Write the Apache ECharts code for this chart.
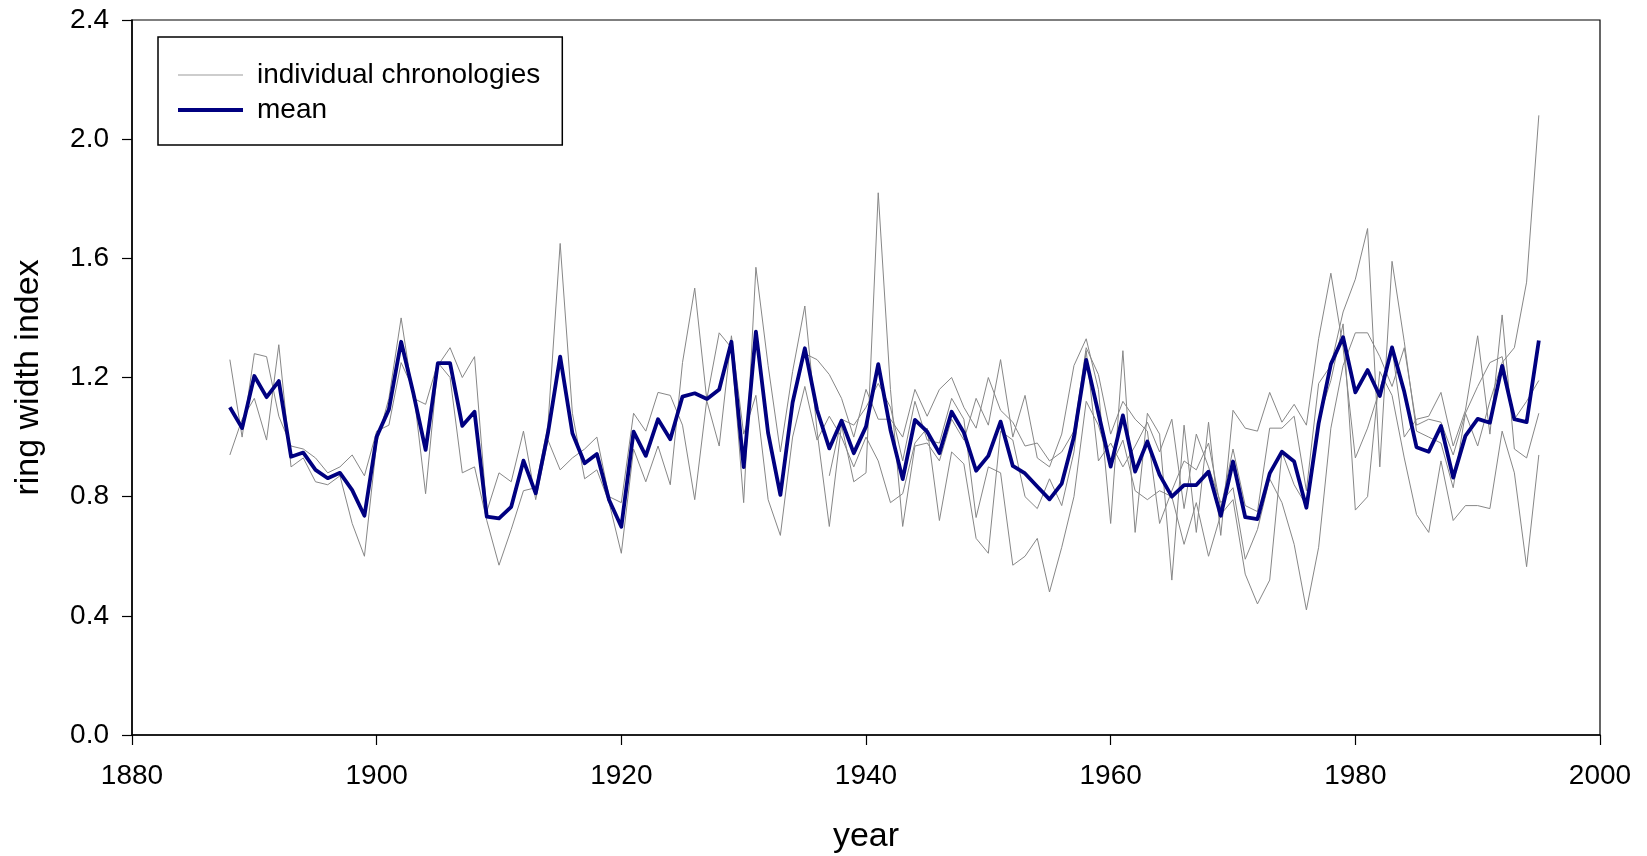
<!DOCTYPE html>
<html>
<head>
<meta charset="utf-8">
<title>Ring width index</title>
<script src="https://cdn.jsdelivr.net/npm/echarts@6/dist/echarts.min.js"></script>
<style>
  html, body { margin: 0; padding: 0; background: #fff; }
  #chart { width: 1647px; height: 856px; }
</style>
</head>
<body>
<div id="chart"></div>
<script>
// Ring width index chronologies, one value per year.
const meanStart = 1888;
const meanIndex = [
  1.10, 1.03, 1.205, 1.134, 1.188, 0.934, 0.948, 0.89, 0.862, 0.88, 0.822, 0.736,
  1.001, 1.093, 1.32, 1.147, 0.957, 1.248, 1.248, 1.038, 1.085, 0.733,
  0.727, 0.766, 0.921, 0.811, 1.013, 1.27, 1.013, 0.912, 0.943, 0.789,
  0.699, 1.018, 0.937, 1.06, 0.993, 1.136, 1.147, 1.128, 1.16, 1.32,
  0.899, 1.354, 1.013, 0.806, 1.116, 1.298, 1.091, 0.962, 1.055, 0.946,
  1.035, 1.245, 1.024, 0.859, 1.058, 1.018, 0.946, 1.085, 1.015, 0.887,
  0.937, 1.052, 0.903, 0.878, 0.834, 0.791, 0.844, 1.001, 1.259, 1.08,
  0.901, 1.073, 0.884, 0.985, 0.873, 0.80, 0.839, 0.839, 0.884, 0.736,
  0.918, 0.731, 0.725, 0.878, 0.951, 0.918, 0.763, 1.046, 1.245, 1.335,
  1.15, 1.225, 1.138, 1.301, 1.152, 0.966, 0.951, 1.037, 0.864, 1.004,
  1.061, 1.048, 1.239, 1.06, 1.05, 1.324
];

const chronAStart = 1888;
const chronA = [
  1.26, 1.00, 1.28, 1.27, 1.07, 0.97, 0.96, 0.93, 0.88, 0.90, 0.94, 0.87,
  1.02, 1.04, 1.25, 1.16, 0.81, 1.24, 1.30, 1.20, 1.27, 0.75,
  0.88, 0.85, 1.02, 0.79, 0.99, 0.89, 0.93, 0.96, 1.00, 0.80,
  0.78, 1.08, 1.02, 1.15, 1.14, 1.04, 0.79, 1.13, 1.35, 1.30,
  0.78, 1.57, 1.24, 0.95, 1.22, 1.44, 1.02, 0.70, 1.04, 0.85,
  0.88, 1.82, 1.16, 0.70, 0.97, 0.98, 0.92, 1.06, 0.99, 1.13,
  1.04, 1.26, 1.00, 1.14, 0.93, 0.90, 1.01, 1.24, 1.33, 1.16,
  0.71, 1.29, 0.68, 1.08, 1.01, 0.52, 1.04, 0.68, 1.05, 0.67,
  1.09, 1.03, 1.02, 1.15, 1.05, 1.11, 1.04, 1.33, 1.55, 1.30,
  0.93, 1.03, 1.16, 1.30, 1.00, 1.06, 1.07, 1.15, 0.97, 1.09,
  1.34, 1.01, 1.41, 0.96, 0.93, 1.08
];

const chronBStart = 1888;
const chronB = [
  0.94, 1.06, 1.13, 0.99, 1.31, 0.90, 0.93, 0.85, 0.84, 0.87, 0.71, 0.60,
  0.98, 1.13, 1.40, 1.13, 1.11, 1.25, 1.20, 0.88, 0.90, 0.72,
  0.57, 0.69, 0.82, 0.83, 1.04, 1.65, 1.08, 0.86, 0.89, 0.78,
  0.61, 0.96, 0.85, 0.97, 0.84, 1.25, 1.50, 1.12, 0.97, 1.34,
  1.01, 1.14, 0.79, 0.67, 1.00, 1.17, 0.99, 1.07, 1.00, 0.90,
  1.00, 0.92, 0.78, 0.81, 0.98, 1.03, 0.72, 0.95, 0.91, 0.66,
  0.61, 1.02, 0.99, 0.80, 0.76, 0.86, 0.77, 0.95, 1.29, 0.92,
  0.98, 0.90, 0.97, 1.05, 0.95, 1.06, 0.76, 1.01, 0.90, 0.78,
  0.83, 0.59, 0.69, 0.86, 0.78, 0.64, 0.42, 0.63, 1.03, 1.24,
  1.35, 1.35, 1.27, 1.17, 1.30, 1.04, 1.06, 1.05, 0.94, 1.08,
  1.17, 1.25, 1.27, 1.06, 1.12, 1.19
];

const chronCStart = 1934;
const chronC = [
  1.13, 1.28, 1.26, 1.21, 1.13, 1.00,
  1.16, 1.06, 1.06, 1.00, 1.16, 1.07, 1.16, 1.20, 1.10, 1.03,
  1.20, 1.09, 1.05, 0.97, 0.98, 0.92, 0.95, 1.02, 1.30, 1.21,
  1.01, 1.12, 1.06, 1.02, 0.71, 0.82, 0.92, 0.89, 0.98, 0.76,
  0.96, 0.77, 0.75, 1.03, 1.03, 1.07, 0.82, 1.18, 1.24, 1.42,
  1.53, 1.70, 0.90, 1.59, 1.32, 1.02, 1.00, 0.98, 0.83, 1.08,
  0.97, 1.12, 1.25, 1.30, 1.52, 2.08
];

const chronDStart = 1937;
const chronD = [
  0.87, 1.06, 1.04,
  1.10, 1.18, 1.10, 0.92, 1.12, 0.99, 0.98, 1.13, 1.06, 0.73,
  0.90, 0.88, 0.57, 0.60, 0.66, 0.48, 0.63, 0.80, 1.12, 1.04,
  0.90, 0.99, 0.82, 0.79, 0.82, 0.80, 0.64, 0.78, 0.60, 0.74,
  0.79, 0.54, 0.44, 0.52, 0.95, 0.84, 0.77, 1.06, 1.19, 1.38,
  0.755, 0.80, 1.22, 1.14, 0.93, 0.74, 0.68, 0.92, 0.72, 0.77,
  0.77, 0.76, 1.02, 0.88, 0.565, 0.94
];

const xTicks = [1880, 1900, 1920, 1940, 1960, 1980, 2000];
const yTicks = [0.0, 0.4, 0.8, 1.2, 1.6, 2.0, 2.4];

// pair each value with its year
function toPoints(startYear, values) {
  return values.map((v, i) => [startYear + i, v]);
}

const FONT = '"Liberation Sans", Arial, sans-serif';
const GREY = '#878787';
const NAVY = '#000080';

const chronologies = [
  [chronAStart, chronA],
  [chronBStart, chronB],
  [chronCStart, chronC],
  [chronDStart, chronD]
];

const series = chronologies.map(([start, vals]) => ({
  name: 'individual chronologies',
  type: 'line',
  data: toPoints(start, vals),
  showSymbol: false,
  symbol: 'none',
  lineStyle: { color: GREY, width: 1 },
  itemStyle: { color: GREY },
  z: 2
}));

series.push({
  name: 'mean',
  type: 'line',
  data: toPoints(meanStart, meanIndex),
  showSymbol: false,
  symbol: 'none',
  lineStyle: { color: NAVY, width: 3.8, join: 'round' },
  itemStyle: { color: NAVY },
  z: 5
});

const chart = echarts.init(document.getElementById('chart'), null, { renderer: 'canvas' });

chart.setOption({
  animation: false,
  backgroundColor: '#ffffff',
  textStyle: { fontFamily: FONT, color: '#000' },
  grid: {
    left: 132, right: 47, top: 20, bottom: 121,
    outerBoundsMode: 'none',
    containLabel: false,
    show: true, borderColor: '#000', borderWidth: 1.2, backgroundColor: 'transparent'
  },
  legend: {
    show: true,
    data: [
      // thin light stroke for the individual series, heavy navy stroke for the mean
      { name: 'individual chronologies', icon: 'path://M0,0 L130,0 L130,3 L0,3 Z', itemStyle: { color: '#bdbdbd' } },
      { name: 'mean', icon: 'path://M0,0 L130,0 L130,8 L0,8 Z', itemStyle: { color: NAVY } }
    ],
    orient: 'vertical',
    left: 158,
    top: 37,
    padding: [24, 22, 21, 20],
    itemGap: 7,
    itemWidth: 65,
    itemHeight: 26,
    borderColor: '#000',
    borderWidth: 1.5,
    borderRadius: 0,
    backgroundColor: '#fff',
    selectedMode: false,
    z: 10,
    textStyle: { fontFamily: FONT, fontSize: 28, color: '#000', padding: [0, 0, 0, 9] }
  },
  xAxis: {
    type: 'value',
    min: xTicks[0],
    max: xTicks[xTicks.length - 1],
    interval: 20,
    name: 'year',
    nameLocation: 'middle',
    nameGap: 85,
    nameTextStyle: { fontFamily: FONT, fontSize: 34, color: '#000' },
    axisLine: { show: true, onZero: false, lineStyle: { color: '#000', width: 1.5 } },
    axisTick: { show: true, inside: false, length: 10, lineStyle: { color: '#000', width: 1.2 } },
    axisLabel: {
      fontFamily: FONT, fontSize: 28, color: '#000', margin: 27,
      formatter: v => (xTicks.includes(v) ? String(v) : '')
    },
    splitLine: { show: false }
  },
  yAxis: {
    type: 'value',
    min: yTicks[0],
    max: yTicks[yTicks.length - 1],
    interval: 0.4,
    name: 'ring width index',
    nameLocation: 'middle',
    nameGap: 86,
    nameRotate: 90,
    nameTextStyle: { fontFamily: FONT, fontSize: 34, color: '#000' },
    axisLine: { show: true, onZero: false, lineStyle: { color: '#000', width: 1.5 } },
    axisTick: { show: true, inside: false, length: 10, lineStyle: { color: '#000', width: 1.2 } },
    axisLabel: {
      fontFamily: FONT, fontSize: 28, color: '#000', margin: 23,
      formatter: v => Number(v).toFixed(1)
    },
    splitLine: { show: false }
  },
  series: series
});
</script>
</body>
</html>
